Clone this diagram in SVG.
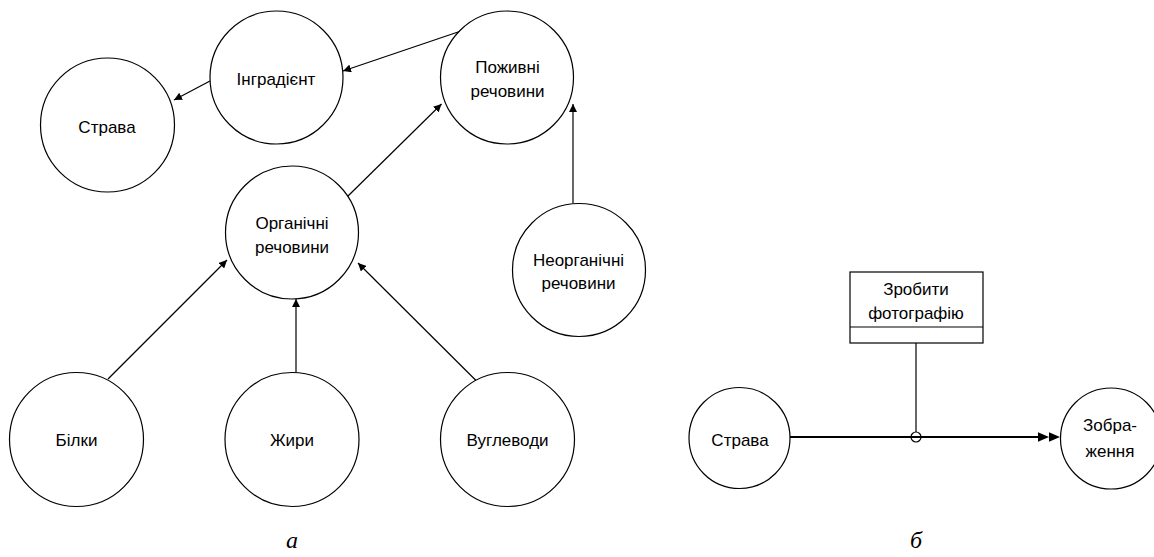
<svg xmlns="http://www.w3.org/2000/svg" width="1154" height="557" viewBox="0 0 1154 557">
<defs>
<style>
.n{fill:#fff;stroke:#000;stroke-width:1.2}
.t{font-family:"Liberation Sans",Arial,sans-serif;font-size:17px;fill:#000;text-anchor:middle}
.c{stroke:#000;stroke-width:1.2;fill:none}
.cap{font-family:"Liberation Serif","Times New Roman",serif;font-style:italic;font-size:24px;fill:#000;text-anchor:middle}
</style>
<marker id="ah" viewBox="0 0 10 10" refX="10" refY="5" markerWidth="8" markerHeight="8" markerUnits="userSpaceOnUse" orient="auto">
<path d="M0,0 L10,5 L0,10 z" fill="#000"/>
</marker>
</defs>
<rect width="1154" height="557" fill="#fff"/>
<g id="connectors">
<line class="c" x1="210" y1="81" x2="174" y2="100" marker-end="url(#ah)"/>
<line class="c" x1="461" y1="31" x2="343" y2="71" marker-end="url(#ah)"/>
<line class="c" x1="347" y1="197" x2="441.5" y2="104" marker-end="url(#ah)"/>
<line class="c" x1="573" y1="203" x2="573" y2="104" marker-end="url(#ah)"/>
<line class="c" x1="108" y1="379" x2="227" y2="260" marker-end="url(#ah)"/>
<line class="c" x1="296" y1="373" x2="296" y2="299" marker-end="url(#ah)"/>
<line class="c" x1="476.5" y1="381" x2="358" y2="263" marker-end="url(#ah)"/>
<line x1="916" y1="327" x2="916" y2="432" stroke="#000" stroke-width="1.2"/>
<line x1="790" y1="437" x2="1040" y2="437" stroke="#000" stroke-width="2"/>
<path d="M1038,432.3 L1049,437 L1038,441.7 z M1049,432.3 L1060,437 L1049,441.7 z" fill="#000"/>
<circle cx="916" cy="437" r="5" fill="none" stroke="#000" stroke-width="1.2"/>
</g>
<g id="strava-a"><circle class="n" cx="107.5" cy="125" r="67"/><text class="t" x="107" y="132.5">Страва</text></g>
<g id="ingredient"><circle class="n" cx="276.5" cy="77.5" r="66.5"/><text class="t" x="276" y="85">Інградієнт</text></g>
<g id="pozhyvni"><circle class="n" cx="507" cy="77.5" r="66.5"/><text class="t" x="507.5" y="72.5">Поживні</text><text class="t" x="507.5" y="97">речовини</text></g>
<g id="organichni"><circle class="n" cx="292" cy="232.5" r="66.5"/><text class="t" x="292" y="229">Органічні</text><text class="t" x="292" y="253">речовини</text></g>
<g id="neorganichni"><circle class="n" cx="579" cy="270" r="66.5"/><text class="t" x="578.5" y="266">Неорганічні</text><text class="t" x="578.5" y="289">речовини</text></g>
<g id="bilky"><circle class="n" cx="76.5" cy="439.5" r="67"/><text class="t" x="76.5" y="446">Білки</text></g>
<g id="zhyry"><circle class="n" cx="292" cy="439.5" r="67"/><text class="t" x="292" y="446">Жири</text></g>
<g id="vuglevody"><circle class="n" cx="507.5" cy="439.5" r="67"/><text class="t" x="507.5" y="446">Вуглеводи</text></g>
<g id="photo"><rect class="n" x="850" y="272" width="133" height="71"/><line x1="850" y1="327" x2="983" y2="327" stroke="#000" stroke-width="1.2"/><text class="t" x="916" y="295">Зробити</text><text class="t" x="916" y="319">фотографію</text></g>
<g id="strava-b"><circle class="n" cx="739.5" cy="438" r="50.5"/><text class="t" x="740" y="446">Страва</text></g>
<g id="zobrazhennia"><circle class="n" cx="1111" cy="438.5" r="50.5"/><text class="t" x="1110" y="431">Зобра-</text><text class="t" x="1110" y="457">ження</text></g>
<g id="captions"><text class="cap" x="292" y="548">а</text><text class="cap" x="916" y="548">б</text></g>
</svg>
